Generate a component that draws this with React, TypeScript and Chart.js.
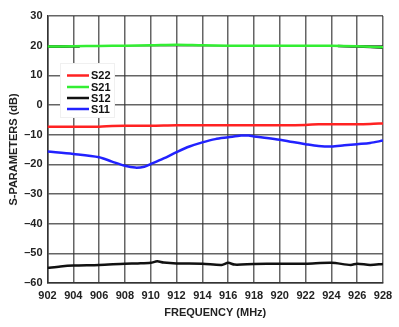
import React, { useEffect, useRef } from "react";
import { Chart, registerables } from "chart.js";

Chart.register(...registerables);

const s22Freq = [902, 904, 906, 907, 908, 910, 912, 914, 916, 918, 920, 922, 923, 924, 926, 927, 928];
const s22Vals = [-7.3, -7.3, -7.3, -7.1, -7.0, -7.0, -6.8, -6.8, -6.8, -6.8, -6.8, -6.7, -6.5, -6.5, -6.5, -6.4, -6.2];

const s21Freq = [902, 904, 906, 908, 910, 912, 914, 916, 918, 920, 922, 924, 926, 928];
const s21Vals = [19.7, 19.8, 19.9, 20.0, 20.1, 20.3, 20.1, 20.0, 20.0, 20.0, 20.0, 20.0, 19.8, 19.5];

// faint dark trace under S21 at both ends
const s21bFreq = [902, 903, 904.5, 905, 924, 924.5, 926, 928];
const s21bVals = [19.6, 19.65, 19.75, null, null, 19.85, 19.7, 19.3];

const s12Freq = [902, 903, 904, 906, 908, 909, 910, 910.5, 911, 912, 914, 915.5, 916, 916.5, 918, 920, 922, 924, 925.5, 926, 927, 928];
const s12Vals = [-54.9, -54.4, -54.1, -53.9, -53.5, -53.4, -53.2, -52.7, -53.1, -53.4, -53.5, -53.9, -53.2, -53.8, -53.6, -53.5, -53.5, -53.2, -53.9, -53.5, -53.9, -53.6];

const s11Freq = [902, 904, 906, 907, 908, 908.8, 909.5, 910, 911, 912, 913, 914, 915, 916, 917, 917.6, 918, 919, 920, 921, 922, 923, 924, 925, 926, 927, 928];
const s11Vals = [-15.7, -16.5, -17.6, -19.1, -20.5, -21.1, -20.8, -19.9, -18.0, -15.9, -14.0, -12.6, -11.5, -10.9, -10.3, -10.3, -10.6, -11.1, -11.7, -12.5, -13.2, -13.8, -14.0, -13.6, -13.2, -12.8, -12.0];

const legendOrder = ["S22", "S21", "S12", "S11"];

const toPts = (xs: number[], ys: (number | null)[]) => xs.map((x, i) => ({ x, y: ys[i] }));

const FONT = "Liberation Sans, Arial, sans-serif";

const legendPlugin = {
  id: "insideLegend",
  afterDatasetsDraw(chart: any) {
    const ctx = chart.ctx;
    const x0 = 60, y0 = 63, w = 55, h = 55;
    ctx.save();
    ctx.fillStyle = "#ffffff";
    ctx.fillRect(x0, y0, w, h);
    ctx.strokeStyle = "rgba(0,0,0,0.06)";
    ctx.lineWidth = 1;
    ctx.strokeRect(x0 + 0.5, y0 + 0.5, w - 1, h - 1);
    const rows = [75.5, 87, 98, 109];
    legendOrder.forEach((name, i) => {
      const ds = chart.data.datasets.find((d: any) => d.label === name);
      const y = rows[i];
      ctx.strokeStyle = ds.borderColor;
      ctx.lineWidth = 2.5;
      ctx.beginPath();
      ctx.moveTo(67, y);
      ctx.lineTo(89, y);
      ctx.stroke();
      ctx.fillStyle = "#111";
      ctx.font = `bold 11px ${FONT}`;
      ctx.textBaseline = "middle";
      ctx.textAlign = "left";
      ctx.fillText(name, 91, y + 0.5);
    });
    ctx.restore();
  },
};

export default function App() {
  const ref = useRef<HTMLCanvasElement | null>(null);
  useEffect(() => {
    document.body.style.margin = "0";
    const ctx = ref.current!.getContext("2d")!;
    const mk = (label: string, xs: number[], ys: (number | null)[], color: string) => ({
      label,
      data: toPts(xs, ys),
      borderColor: color,
      backgroundColor: color,
      borderWidth: 2.5,
      pointRadius: 0,
      tension: 0.3,
      fill: false,
      spanGaps: false,
    });
    const chart = new Chart(ctx, {
      type: "line",
      data: {
        datasets: [
          mk("S12", s12Freq, s12Vals, "#111111"),
          mk("S21", s21Freq, s21Vals, "#33ee33"),
          mk("S22", s22Freq, s22Vals, "#ff2222"),
          mk("S11", s11Freq, s11Vals, "#2222ff"),
          mk("S21b", s21bFreq, s21bVals, "#222222"),
        ],
      },
      options: {
        animation: false,
        responsive: false,
        maintainAspectRatio: false,
        layout: { padding: { left: 0, right: 16, top: 16, bottom: 0 } },
        plugins: { legend: { display: false }, tooltip: { enabled: false } },
        scales: {
          x: {
            type: "linear",
            min: 902,
            max: 928,
            afterFit: (s: any) => { s.height = 44; },
            ticks: {
              stepSize: 2,
              color: "#222",
              padding: 6,
              maxRotation: 0,
              font: { family: FONT, size: 11, weight: "bold" },
              callback: (v: any) => String(v),
            },
            grid: { color: "rgba(50,50,50,0.75)", lineWidth: 1.5, drawTicks: false },
            border: { color: "#333", width: 1.5 },
            title: {
              display: true,
              text: "FREQUENCY (MHz)",
              color: "#222",
              font: { family: FONT, size: 11, weight: "bold" },
              padding: { top: 0, bottom: 7.5 },
            },
          },
          y: {
            type: "linear",
            min: -60,
            max: 30,
            afterFit: (s: any) => { s.width = 47.5; },
            ticks: {
              stepSize: 10,
              color: "#222",
              padding: 5,
              font: { family: FONT, size: 11, weight: "bold" },
              callback: (v: any) => (Number(v) < 0 ? "\u2013" + Math.abs(Number(v)) : String(v)),
            },
            grid: { color: "rgba(50,50,50,0.75)", lineWidth: 1.5, drawTicks: false },
            border: { color: "#333", width: 1.5 },
            title: {
              display: true,
              text: "S-PARAMETERS (dB)",
              color: "#222",
              font: { family: FONT, size: 11, weight: "bold" },
              padding: { top: 7.5, bottom: 2 },
            },
          },
        },
      },
      plugins: [legendPlugin],
    });
    return () => chart.destroy();
  }, []);
  return (
    <div style={{ width: 399, height: 327, background: "#fff" }}>
      <canvas ref={ref} width={399} height={327} style={{ display: "block" }} />
    </div>
  );
}
